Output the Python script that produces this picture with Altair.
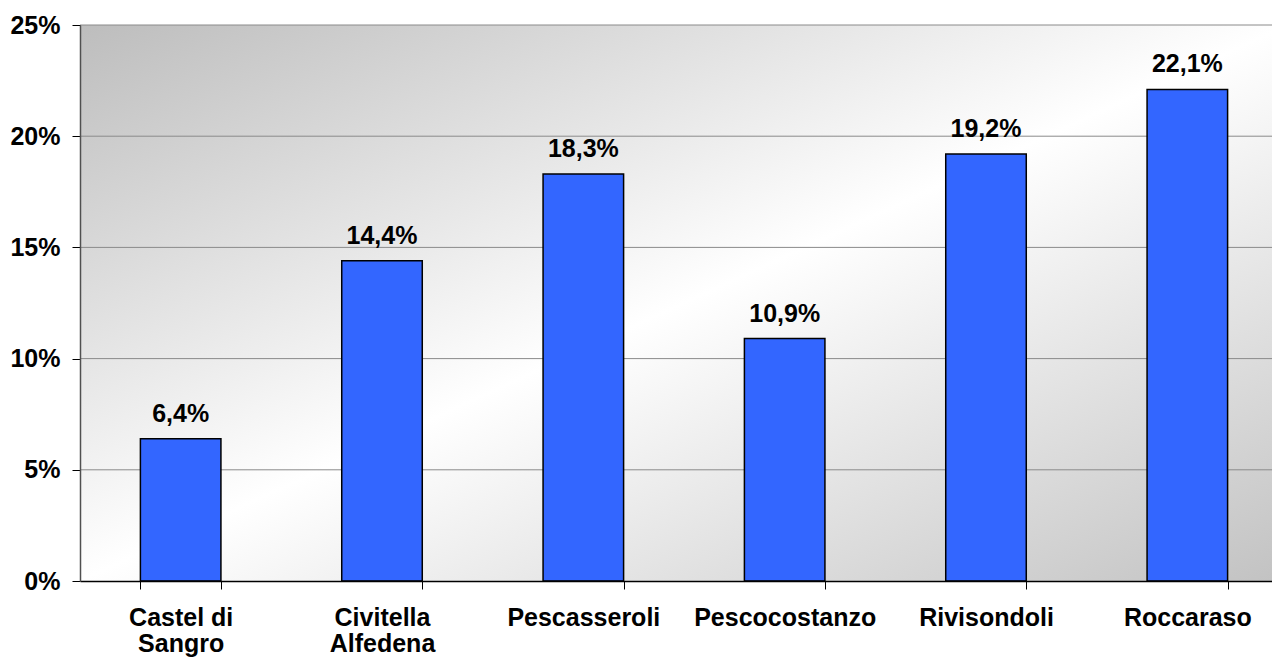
import altair as alt
import pandas as pd

categories = ["Castel di|Sangro", "Civitella|Alfedena", "Pescasseroli",
              "Pescocostanzo", "Rivisondoli", "Roccaraso"]
values = [6.4, 14.4, 18.3, 10.9, 19.2, 22.1]
y_ticks = [0, 5, 10, 15, 20, 25]
grid_values = [5, 10, 15, 20, 25]

W, H = 1192, 556      # visible plot width (page is cut at the right edge)
XR = 1208             # full category range, extends past the page edge
FONT = "Liberation Sans"
FS = 25

df = pd.DataFrame({
    "cat": categories,
    "val": values,
    "label": [f"{v:.1f}".replace(".", ",") + "%" for v in values],
})
grid_df = pd.DataFrame({"val": grid_values})

yscale = alt.Scale(domain=[0, 25], nice=False, zero=True)
xscale = alt.Scale(paddingInner=0.6, paddingOuter=0.3, range=[0, XR])

yaxis = alt.Axis(title=None, values=y_ticks, grid=False,
                 labelExpr="datum.value + '%'", tickSize=8,
                 tickColor="#000000", domainColor="#505050",
                 domainWidth=1.5, labelFont=FONT, labelFontSize=FS,
                 labelFontWeight="bold", labelColor="#000000",
                 labelPadding=12, zindex=1)
xaxis = alt.Axis(title=None, labelAngle=0, tickBand="extent",
                 tickSize=8, tickColor="#000000", domainColor="#000000",
                 domainWidth=1.5, labelFont=FONT, labelFontSize=FS,
                 labelFontWeight="bold", labelColor="#000000",
                 labelPadding=16, labelLineHeight=26, labelLimit=0,
                 labelOverlap=False,
                 labelExpr="split(datum.label, '|')", zindex=1)

bg = alt.Chart(alt.Data(values=[{"a": 1}])).mark_rect(
    fill=alt.Gradient(
        gradient="linear",
        stops=[
            alt.GradientStop(color="#bdbdbd", offset=0),
            alt.GradientStop(color="#ffffff", offset=0.5),
            alt.GradientStop(color="#c2c2c2", offset=1),
        ],
        x1=0, y1=0, x2=1, y2=1,
    )
).encode(x=alt.value(0), x2=alt.value(XR), y=alt.value(0), y2=alt.value(H))

grid = alt.Chart(grid_df).mark_rule(color="#8a8a8a", strokeWidth=1).encode(
    y=alt.Y("val:Q", scale=yscale, axis=yaxis),
    x=alt.value(0), x2=alt.value(XR),
)

bars = alt.Chart(df).mark_bar(
    color="#3366FF", stroke="#000000", strokeWidth=1.5
).encode(
    x=alt.X("cat:N", sort=categories, scale=xscale, axis=xaxis),
    y=alt.Y("val:Q", scale=yscale, axis=yaxis),
)

text = alt.Chart(df).mark_text(
    dy=-17, baseline="alphabetic", align="center", font=FONT, fontSize=FS,
    fontWeight="bold", color="#000000"
).encode(
    x=alt.X("cat:N", sort=categories, scale=xscale, axis=xaxis),
    y=alt.Y("val:Q", scale=yscale, axis=yaxis),
    text="label:N",
)

chart = alt.layer(bg, grid, bars, text).properties(
    width=W, height=H,
    autosize=alt.AutoSizeParams(type="none"),
    padding={"left": 72, "top": 17, "right": 0, "bottom": 82},
).configure_view(stroke=None)

chart.save("out.html", embed_options={"renderer": "svg", "actions": False})
